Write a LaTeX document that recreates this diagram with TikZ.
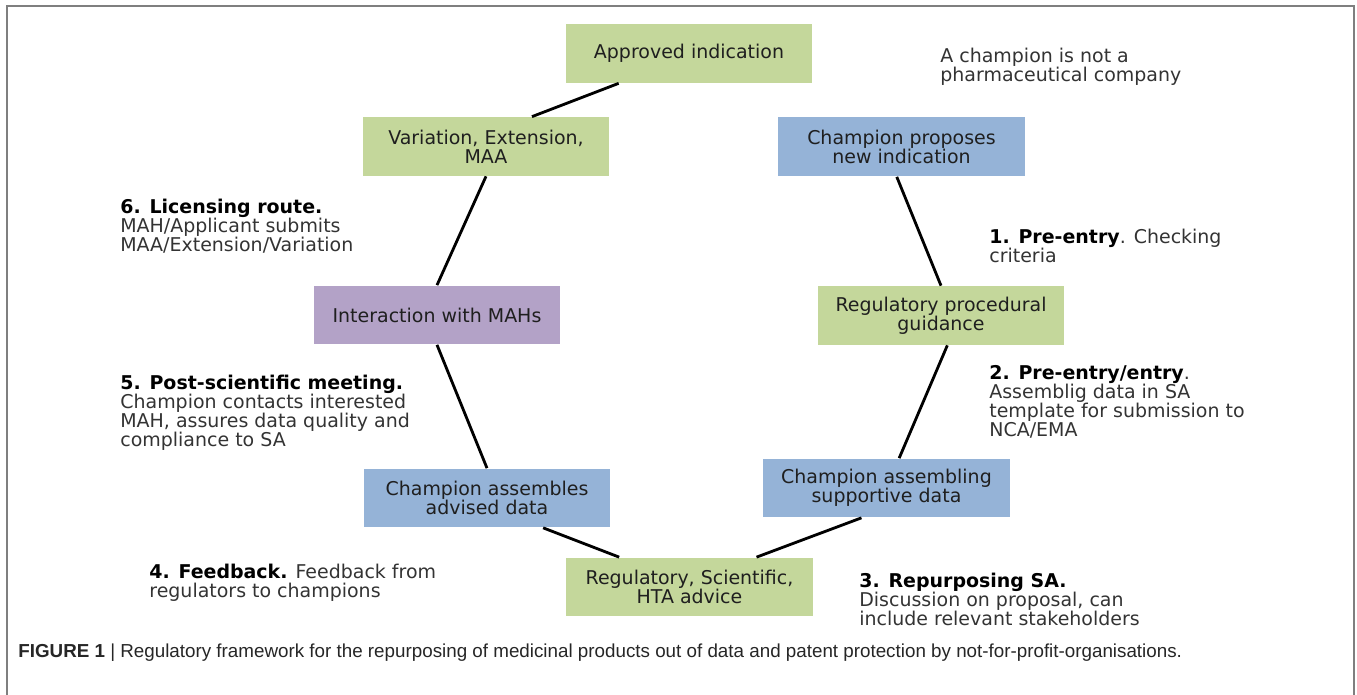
\documentclass[tikz,border=0pt]{standalone}
\usepackage{fontspec}
\usepackage{tikz}
\setmainfont{DejaVu Sans}
\newfontfamily\capfont{Liberation Sans}

\definecolor{boxgreen}{HTML}{C4D79B}
\definecolor{boxblue}{HTML}{95B3D7}
\definecolor{boxpurple}{HTML}{B3A2C7}
\definecolor{framegray}{HTML}{7F7F7F}

\begin{document}
\begin{tikzpicture}[x=0.02cm, y=-0.02cm,
  every node/.style={font=\fontsize{10.8}{10.8}\selectfont, text=black!80},
  box/.style={rectangle, minimum width=4.94cm, minimum height=1.18cm, align=center, inner sep=2pt, text=black!88},
  greenbox/.style={box, fill=boxgreen},
  bluebox/.style={box, fill=boxblue},
  purplebox/.style={box, fill=boxpurple},
  note/.style={anchor=north west, align=left, inner sep=0pt},
  link/.style={line width=1.6pt}]
  \useasboundingbox (0,0) rectangle (1357,695);
  \draw [framegray, line width=1.1pt] (7,695) -- (7,6) -- (1354,6) -- (1354,695);

  % the cycle
  \node [greenbox] (approved) at (689, 53.5) {Approved indication};
  \node [greenbox] (variation) at (486, 146.5) {Variation, Extension,\\MAA};
  \node [bluebox] (proposes) at (901.5, 147) {Champion proposes\\new indication};
  \node [purplebox] (interaction) at (437, 315) {Interaction with MAHs};
  \node [greenbox] (guidance) at (941, 315.5) {Regulatory procedural\\guidance};
  \node [bluebox] (advised) at (487, 498) {Champion assembles\\advised data};
  \node [bluebox] (supportive) at (886.5, 488) {Champion assembling\\supportive data};
  \node [greenbox] (advice) at (689.5, 587) {Regulatory, Scientific,\\HTA advice};

  \draw [link] (approved.203) -- (variation.33);
  \draw [link] (variation.south) -- (interaction.north);
  \draw [link] (interaction.south) -- (advised.north);
  \draw [link] (advised.332) -- (advice.157);
  \draw [link] (advice.24) -- (supportive.230);
  \draw [link] (supportive.67) -- (guidance.282);
  \draw [link] (guidance.north) -- (proposes.261);

  % steps
  \node [note] (n0) at (940, 48) {A champion is not a\\pharmaceutical company};
  \node [note] (n1) at (989, 229) {\textbf{\color{black}1. Pre-entry}. Checking\\criteria};
  \node [note] (n2) at (989, 365) {\textbf{\color{black}2. Pre-entry/entry}.\\Assemblig data in SA\\template for submission to\\NCA/EMA};
  \node [note] (n3) at (859, 573) {\textbf{\color{black}3. Repurposing SA.}\\Discussion on proposal, can\\include relevant stakeholders};
  \node [note] (n4) at (149, 564) {\textbf{\color{black}4. Feedback.} Feedback from\\regulators to champions};
  \node [note] (n5) at (120, 375) {\textbf{\color{black}5. Post-scientific meeting.}\\Champion contacts interested\\MAH, assures data quality and\\compliance to SA};
  \node [note] (n6) at (120, 199) {\textbf{\color{black}6. Licensing route.}\\MAH/Applicant submits\\MAA/Extension/Variation};

  \node [anchor=west, inner sep=0pt, font=\capfont\fontsize{10.7}{12}\selectfont, text=black!85] (caption) at (18, 653)
    {\textbf{FIGURE 1} | Regulatory framework for the repurposing of medicinal products out of data and patent protection by not-for-profit-organisations.};
\end{tikzpicture}
\end{document}
